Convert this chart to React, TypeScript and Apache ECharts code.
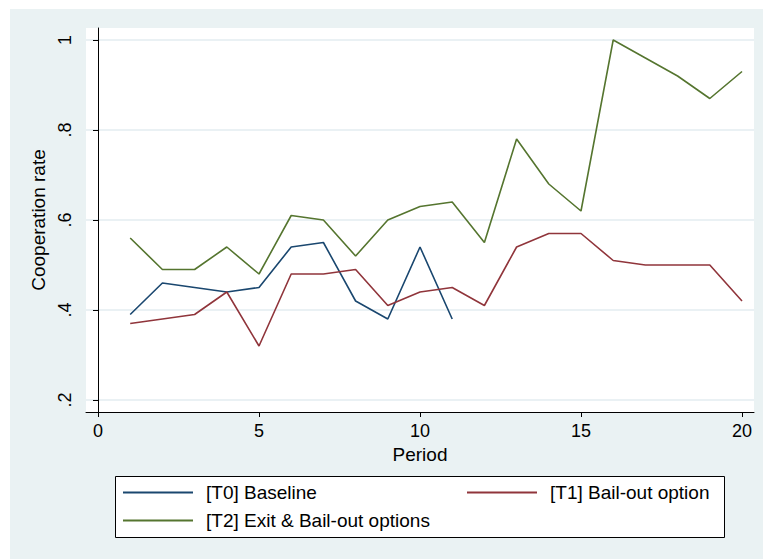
import React, { useEffect, useRef } from 'react';
import * as echarts from 'echarts';

const periods = [1, 2, 3, 4, 5, 6, 7, 8, 9, 10, 11, 12, 13, 14, 15, 16, 17, 18, 19, 20];
const t0Values = [0.39, 0.46, 0.45, 0.44, 0.45, 0.54, 0.55, 0.42, 0.38, 0.54, 0.38];
const t1Values = [0.37, 0.38, 0.39, 0.44, 0.32, 0.48, 0.48, 0.49, 0.41, 0.44, 0.45, 0.41, 0.54, 0.57, 0.57, 0.51, 0.5, 0.5, 0.5, 0.42];
const t2Values = [0.56, 0.49, 0.49, 0.54, 0.48, 0.61, 0.6, 0.52, 0.6, 0.63, 0.64, 0.55, 0.78, 0.68, 0.62, 1.0, 0.96, 0.92, 0.87, 0.93];
const seriesNames = ['[T0] Baseline', '[T1] Bail-out option', '[T2] Exit & Bail-out options'];
const seriesColors = ['#1A476F', '#90353B', '#55752F'];
const xTicks = [0, 5, 10, 15, 20];
const yTicks = [0.2, 0.4, 0.6, 0.8, 1];
const yTickLabels = ['.2', '.4', '.6', '.8', '1'];

const FONT = 'Liberation Sans, Arial, sans-serif';

function pairs(vals: number[]) {
  return vals.map((v, i) => [periods[i], v]);
}

export default function App() {
  const ref = useRef<HTMLDivElement>(null);
  useEffect(() => {
    if (!ref.current) return;
    const chart = echarts.init(ref.current, undefined, { renderer: 'svg' });
    const legendBase = {
      icon: 'rect',
      itemWidth: 70,
      itemHeight: 2,
      padding: 0,
      selectedMode: false,
      orient: 'horizontal',
      textStyle: { fontSize: 19, color: '#000', fontFamily: FONT, padding: [0, 0, 0, 8] },
    };
    const option: any = {
      animation: false,
      backgroundColor: '#EAF2F3',
      textStyle: { fontFamily: FONT },
      grid: {
        left: 86,
        top: 28,
        right: 9,
        bottom: 147,
        show: true,
        backgroundColor: '#ffffff',
        borderWidth: 0,
        containLabel: false,
        outerBoundsMode: 'none',
      },
      xAxis: {
        type: 'value',
        min: -0.3727,
        max: 20.3727,
        name: 'Period',
        nameLocation: 'middle',
        nameGap: 29,
        nameTextStyle: { fontSize: 19, color: '#000', fontFamily: FONT },
        axisLine: { show: true, lineStyle: { color: '#000', width: 1 } },
        axisTick: { show: true, length: 5, lineStyle: { color: '#000', width: 1 }, customValues: xTicks },
        axisLabel: { customValues: xTicks, fontSize: 18, color: '#000', margin: 10, fontFamily: FONT },
        splitLine: { show: false },
      },
      yAxis: {
        type: 'value',
        min: 0.17333,
        max: 1.02667,
        name: 'Cooperation rate',
        nameLocation: 'middle',
        nameRotate: 90,
        nameGap: 33,
        nameTextStyle: { fontSize: 19, color: '#000', fontFamily: FONT },
        axisLine: { show: true, lineStyle: { color: '#000', width: 1 } },
        axisTick: { show: true, length: 5, lineStyle: { color: '#000', width: 1 }, customValues: yTicks },
        axisLabel: {
          customValues: yTicks,
          rotate: 90,
          fontSize: 18,
          color: '#000',
          margin: 12,
          fontFamily: FONT,
          formatter: (v: any) => {
            const n = Number(v);
            let best = 0;
            yTicks.forEach((t, i) => {
              if (Math.abs(t - n) < Math.abs(yTicks[best] - n)) best = i;
            });
            return yTickLabels[best];
          },
        },
        splitLine: { show: true, lineStyle: { color: '#E3EDF0', width: 1.5 } },
      },
      legend: [
        { ...legendBase, data: [seriesNames[0]], left: 123, top: 483 },
        { ...legendBase, data: [seriesNames[1]], left: 467, top: 483 },
        { ...legendBase, data: [seriesNames[2]], left: 123, top: 511 },
      ],
      graphic: [
        { type: 'rect', silent: true, z: 0, shape: { x: 0, y: 0, width: 10, height: 559 }, style: { fill: '#ffffff' } },
        { type: 'rect', silent: true, z: 0, shape: { x: 0, y: 0, width: 763, height: 9 }, style: { fill: '#ffffff' } },
        {
          type: 'rect',
          silent: true,
          z: 0,
          shape: { x: 115.5, y: 476.5, width: 609, height: 61 },
          style: { fill: '#ffffff', stroke: '#000', lineWidth: 1 },
        },
      ],
      series: [t0Values, t1Values, t2Values].map((vals, i) => ({
        type: 'line',
        name: seriesNames[i],
        data: pairs(vals),
        symbol: 'none',
        showSymbol: false,
        color: seriesColors[i],
        lineStyle: { color: seriesColors[i], width: 1.6 },
        itemStyle: { color: seriesColors[i] },
      })),
    };
    chart.setOption(option);
    return () => chart.dispose();
  }, []);
  return (
    <div
      ref={ref}
      style={{ position: 'fixed', left: 0, top: 0, width: 763, height: 559 }}
    />
  );
}
